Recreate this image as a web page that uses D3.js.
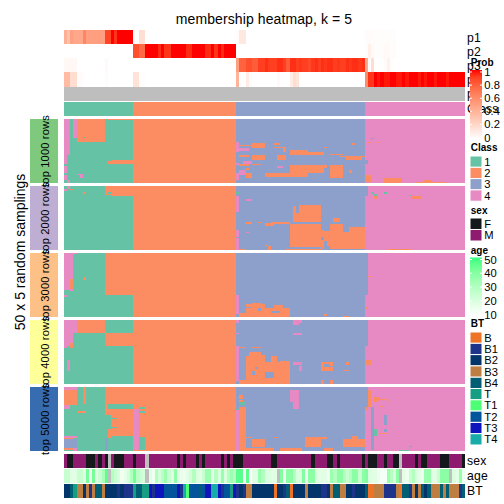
<!DOCTYPE html>
<html><head><meta charset="utf-8">
<script src="https://cdn.jsdelivr.net/npm/d3@7"></script>
<style>html,body{margin:0;padding:0;background:#fff}svg{display:block}text{font-family:"Liberation Sans",Arial,sans-serif;fill:#000}</style>
</head><body><div id="c"></div>
<script>
const classLabels=["1","2","3","4"];
const classColors=["#66C2A5","#FC8D62","#8DA0CB","#E78AC3"];
const classSizes=[22,33,41,32];
const groupNames=["top 1000 rows","top 2000 rows","top 3000 rows","top 4000 rows","top 5000 rows"];
const groupColors=["#7FC97F","#BEAED4","#FDC086","#FFFF99","#386CB0"];
const rowsPerGroup=50;
const p1=[.42,.32,.5,.46,.46,.46,.62,.5,.5,.5,
.5,.5,.5,.88,.88,1,.93,1,1,1,
1,1,0,0,.17,.17,0,0,0,0,
0,0,0,0,0,0,0,0,0,0,
0,0,0,0,0,0,0,0,0,0,
0,0,0,0,0,.02,.12,.12,0,0,
0,0,0,0,0,0,0,0,0,0,
0,0,0,0,0,0,0,0,0,0,
0,0,0,0,0,0,0,0,0,0,
0,0,0,0,0,0,.02,.02,.01,.01,
.01,.01,.01,.01,.01,.01,0,0,0,0,
0,0,0,0,0,0,0,0,0,0,
0,0,0,0,0,0,0,0];
const p2=[0,0,0,0,0,0,0,0,0,0,
0,0,0,0,0,0,0,0,0,0,
0,0,.85,.85,.75,.75,1,1,1,1,
.95,1,.93,.93,1,1,1,1,1,.95,
.95,1,1,1,1,.95,.95,1,.93,1,
.95,1,1,1,1,0,0,0,0,0,
0,0,0,0,0,0,0,0,0,0,
0,0,0,0,0,0,0,0,0,0,
0,0,0,0,0,0,0,0,0,0,
0,0,0,0,0,0,.01,.08,.03,.01,
.01,.01,.03,.03,.01,.02,0,0,0,0,
0,0,0,0,0,0,0,0,0,0,
0,0,0,0,0,0,0,0];
const p3=[.04,.04,.04,.04,0,0,0,0,0,0,
0,0,0,.03,0,0,0,0,0,0,
0,0,0,0,0,0,0,0,0,0,
0,0,0,0,0,0,0,0,0,0,
0,0,0,0,0,0,0,0,0,0,
0,0,0,0,0,.5,.78,.78,.85,.85,
.8,.8,.9,.9,.94,.9,.9,.9,.94,.94,
.9,.8,.94,.94,.9,.92,.9,.9,.87,.92,
.94,.9,.94,.92,.94,.94,.9,.92,.9,.9,
.94,.92,.94,.94,.92,.94,.45,.02,.18,0,
0,0,.02,.07,.01,0,0,0,0,0,
0,0,0,0,0,0,0,0,0,0,
0,0,0,0,0,0,0,0];
const p4=[.36,.36,.18,.18,.02,.02,0,0,0,0,
0,0,0,.02,0,0,0,0,0,0,
0,0,.15,.15,.01,.01,0,0,0,0,
0,0,0,0,0,0,0,0,0,0,
0,0,0,0,0,0,0,0,0,0,
0,0,0,0,0,.4,0,0,.1,.02,
0,0,0,0,0,0,0,0,.03,0,
0,0,.1,.18,.15,0,0,0,0,0,
0,0,0,0,0,0,0,0,0,0,
0,0,0,0,0,0,.6,.93,.92,1,
.98,1,.98,.98,1,1,.98,.98,1,.98,
1,1,1,.98,1,.98,1,1,.98,1,
1,1,.98,1,1,1,1,1];
const probs=[p1,p2,p3,p4];
const probNames=["p1","p2","p3","p4","p5","Class"];
/* cells per group: [fromCol,toCol,fromRow,toRow,class] (to exclusive) */
const cells1=[[0,2,0,28,4],[0,1,28,35,4],[0,1,37,42,4],[0,1,44,48,4],[1,2,48,50,4],[4,6,43,44,4],[5,6,44,46,4],
[3,4,0,15,4],[4,13,0,18,2],[6,7,14,15,1],[15,22,32,35,2],[14,15,33,35,2],[14,22,0,1,2],
[55,56,18,26,4],[55,56,34,36,4],[55,56,42,48,4],[56,60,20,21,2],[56,59,23,25,4],[56,59,28,30,2],[57,60,33,35,4],[56,59,35,37,2],[56,58,40,44,4],[58,60,42,46,2],
[60,64,19,23,2],[60,64,28,32,2],[60,63,35,36,2],[67,69,19,20,2],[67,70,22,23,2],[70,71,22,26,2],[72,78,24,28,2],[78,83,26,28,2],[83,84,22,23,2],[85,89,27,28,2],[92,93,19,20,2],
[88,96,29,30,2],[90,95,30,32,2],[68,71,28,32,2],[72,78,36,45,2],[78,83,36,42,2],[85,89,36,46,2],[83,84,36,38,2],[91,92,40,42,2],[64,72,42,45,2],[58,59,38,40,2],[68,70,37,38,4],
[96,97,32,35,3],[98,99,15,16,3],[96,98,44,49,2],[102,108,46,50,2],[112,122,49,50,2],[115,117,48,50,2],[97,98,18,19,2],[100,101,18,19,2]];
const cells2=[[13,22,0,8,2],[0,1,2,4,4],[1,2,0,2,4],[1,2,4,6,1],[2,3,2,3,2],[6,7,5,6,2],[14,15,5,6,1],[13,15,7,8,1],
[96,97,0,8,3],[55,56,8,20,4],[55,56,34,40,4],[55,56,41,50,4],[55,56,5,6,1],[58,60,10,12,4],[58,59,36,37,4],[55,56,30,31,3],
[73,74,16,28,2],[74,75,21,28,2],[75,82,15,28,2],[72,82,30,48,2],[82,83,34,40,2],[82,83,42,49,2],[85,89,30,49,2],[89,91,36,49,2],[91,96,32,49,2],[83,85,35,43,2],[84,85,43,47,2],
[86,88,25,28,2],[58,60,28,30,2],[62,63,28,29,2],[64,67,29,31,2],[66,72,28,30,2],[71,82,49,50,2],[64,65,46,47,2],[65,66,47,50,2],[56,58,49,50,2],
[99,100,6,10,2],[99,100,6,8,1],[98,99,5,6,1],[102,103,5,6,1],[111,114,8,10,2],[110,111,7,8,1],[103,111,49,50,2]];
const cells3=[[0,3,0,30,4],[3,4,0,1,4],[2,3,20,28,2],[13,22,0,33,2],[6,7,19,21,2],[0,2,29,33,1],[0,1,33,34,4],
[96,97,0,33,3],[55,56,33,48,4],[58,64,40,50,2],[56,58,47,50,2],[64,72,43,50,2],[67,70,41,43,2],[60,63,39,40,2],[62,63,43,45,3],[66,69,45,47,3],[58,60,42,43,3],
[83,84,48,49,2],[89,91,49,50,2],[97,98,18,19,2],[96,97,42,44,2]];
const cells4=[[0,4,0,10,4],[4,13,0,10,2],[0,3,10,18,4],[0,2,18,20,4],[0,1,20,22,4],[2,3,18,22,2],[13,22,10,20,2],[1,2,31,40,4],
[96,97,0,20,3],[55,56,20,48,4],[55,56,0,2,4],[55,56,10,11,4],[73,76,0,2,4],[73,75,2,4,4],[73,76,10,12,4],
[58,64,25,50,2],[56,58,47,50,2],[56,58,21,22,2],[60,63,21,22,2],[64,72,33,50,2],[66,68,28,33,2],[69,72,32,33,2],[64,67,41,45,3],[60,61,40,43,3],[61,62,37,38,3],[58,59,25,28,3],[63,64,25,27,3],
[73,76,33,35,4],[75,76,36,40,4],[82,85,33,34,2],[82,83,34,40,2],[83,86,37,40,2],[85,86,33,36,2],[82,83,47,50,2],[85,86,47,50,2],[89,91,39,40,2],[90,91,33,35,2],[96,98,31,35,2]];
const cells5=[[0,4,0,2,4],[0,4,2,13,2],[6,7,0,13,2],[13,22,0,13,2],[0,4,13,14,2],[0,2,14,17,4],[2,4,14,16,1],[13,14,13,22,2],[14,22,17,38,2],[14,15,22,33,1],[15,17,24,25,1],[15,17,31,32,1],[14,15,40,50,1],[13,14,40,50,3],
[4,7,19,20,2],[13,14,30,32,1],[14,15,37,40,2],[22,24,17,49,4],[24,26,16,17,1],[24,26,19,20,1],[24,26,39,49,1],
[0,4,38,40,4],[0,3,40,41,2],[0,4,41,48,3],[0,3,48,49,2],[3,4,48,50,4],
[96,97,0,16,3],[97,98,2,16,2],[96,97,16,18,2],[97,98,18,50,4],[98,99,16,49,3],[99,100,33,38,1],[56,58,16,50,2],[56,57,6,9,2],[56,57,10,12,2],[56,58,12,14,1],[55,56,18,50,4],[55,56,17,18,1],
[72,75,2,12,4],[73,75,12,17,4],[60,64,41,47,2],[58,60,39,40,2],[67,68,39,40,2],[58,67,48,50,2],[69,76,48,50,2],[77,82,39,47,2],[82,84,39,41,2],[83,86,48,50,2],[89,96,41,47,2],[92,94,38,41,2],
[99,101,8,12,2],[100,101,11,12,4],[101,103,9,10,2],[101,102,15,16,2],[102,103,22,30,3],[101,103,36,37,2],[103,104,10,11,2],[102,103,33,35,3],[107,110,49,50,1],[110,111,46,47,3]];
const groupCells=[cells1,cells2,cells3,cells4,cells5];
const sexLabels=["F","M"];
const sexColors=["#15191C","#8E1B6F"];
const blackCols=[1,2,7,8,9,11,13,16,17,18,22,36,38,42,44,50,52,54,55,56,66,67,79,84,85,87,95,97,98,99,102,105,106,112,114,115,120,121,122,127];
const sexNA=[14,26,107];
const age=[25,25,18,18,25,25,18,42,15,42,
18,25,32,46,null,30,25,20,14,17,
22,30,42,28,25,22,null,18,14,30,
22,28,35,25,18,38,18,16,15,18,
22,30,20,18,25,35,35,18,30,20,
36,20,30,35,28,46,46,13,46,12,
18,18,36,30,20,20,18,18,null,40,
15,38,38,30,20,20,40,15,38,38,
20,18,18,18,15,35,30,38,38,30,
25,30,38,38,25,38,40,20,18,18,
15,13,13,35,30,20,38,null,18,15,
25,30,20,18,15,36,36,18,18,25,
38,38,38,null,20,18,36,15];
const btNames=["B","B1","B2","B3","B4","T","T1","T2","T3","T4"];
const btColors=["#EF7326","#1E348A","#03356A","#BF7E41","#015E73","#169E84","#4DFF74","#02559A","#0E15BC","#17ABAA"];
const bt=["B2","B2","B4","T","B3","B3","B2","B3","B1","B3",
"B4","B4","B3","B2","B2","B2","B2","B1","B2","B1",
"B1","B1","T","B4","B4","T","T","T3","B1","T3",
"T3","T3","T2","T2","T2","T2","T3","B1","T4","T1",
"T2","T2","T2","B4","T2","T3","T3","T4","T4","T3",
"B1","T2","T2","T","T3","B1","B2","B1","B3","B3",
"B2","B2","B2","B2","B2","B2","B2","B","B2","B2",
"B1","B4","B","B2","B2","B2","B2","B3","B2","B2",
"B2","B2","B1","B1","B2","B3","B4","B4","B3","B3",
"B2","B2","B1","B2","B2","B2","B4","B","B","B3",
"B3","B3","B1","B1","B1","B1","B3","B","B4","B4",
"B1","B3","B2","B3","B4","B2","B4","B3","B3","B3",
"B4","B3","B4","B3","B3","B3","B1","B4"];
const probTicks=[0,.2,.4,.6,.8,1];
const ageTicks=[10,20,30,40,50];

const svg=d3.select("#c").append("svg").attr("width",504).attr("height",504);
const x=d3.scaleBand().domain(d3.range(128)).range([64,465]).paddingInner(0).paddingOuter(0);
const probColor=d3.scaleLinear().domain([0,1]).range(["#fff","#f00"]).interpolate(d3.interpolateLab);
const ageColor=d3.scaleLinear().domain([10,50]).range(["#fff","#33FF7F"]).interpolate(d3.interpolateLab);
const classColor=d3.scaleOrdinal().domain(classLabels).range(classColors);
const sexColor=d3.scaleOrdinal().domain(sexLabels).range(sexColors);
const btColor=d3.scaleOrdinal().domain(btNames).range(btColors);
const NA="#BEBEBE";
const labelSize=12.2;

const baseClass=[];
classSizes.forEach((n,i)=>{for(let k=0;k<n;k++)baseClass.push(i+1)});

svg.append("text").attr("x",264).attr("y",23.5).attr("text-anchor","middle").attr("font-size",14).attr("letter-spacing",.1).text("membership heatmap, k = 5");

function track(top,h,colorOf){
  svg.append("g").selectAll("rect").data(d3.range(128)).join("rect")
   .attr("x",i=>x(i)).attr("width",x.bandwidth()+.01).attr("y",top).attr("height",h)
   .attr("fill",colorOf).attr("shape-rendering","crispEdges");
}
const annY=d3.scaleBand().domain(["p1","p2","p3","p4","p5"]).range([30,100.8]);
probs.forEach((p,j)=>track(annY("p"+(j+1)),annY.bandwidth(),i=>probColor(p[i])));
track(annY("p5"),annY.bandwidth(),()=>NA);
track(102,14.2,i=>classColor(String(baseClass[i])));

const groupTops=[119,186,253,320,387];
groupNames.forEach((name,g)=>{
  const top=groupTops[g],h=64;
  const rowY=d3.scaleBand().domain(d3.range(rowsPerGroup)).range([top,top+h]);
  const m=d3.range(rowsPerGroup).map(()=>baseClass.slice());
  groupCells[g].forEach(([c0,c1,r0,r1,cl])=>{for(let r=r0;r<r1;r++)for(let c=c0;c<c1;c++)m[r][c]=cl});
  const runs=[];
  m.forEach((row,r)=>{let s=0;for(let c=1;c<=128;c++){if(c===128||row[c]!==row[s]){runs.push({r,s,e:c,cl:row[s]});s=c}}});
  svg.append("g").selectAll("rect").data(runs).join("rect")
    .attr("x",d=>x(d.s)).attr("width",d=>x(d.e-1)+x.bandwidth()-x(d.s))
    .attr("y",d=>rowY(d.r)).attr("height",rowY.bandwidth()+.01)
    .attr("fill",d=>classColor(String(d.cl))).attr("shape-rendering","crispEdges");
  svg.append("rect").attr("x",30).attr("width",28).attr("y",top).attr("height",h).attr("fill",groupColors[g]);
  svg.append("text").attr("transform",`translate(49,${top+h/2}) rotate(-90)`).attr("text-anchor","middle").attr("font-size",11.2).attr("letter-spacing",.12).text(name);
});
svg.append("text").attr("transform","translate(24.5,252) rotate(-90)").attr("text-anchor","middle").attr("font-size",14).text("50 x 5 random samplings");

track(454,14,i=>sexNA.includes(i)?NA:sexColor(blackCols.includes(i)?"F":"M"));
track(468.7,14,i=>age[i]===null?NA:ageColor(age[i]));
track(484,14,i=>btColor(bt[i]));
[["sex",465],["age",480],["BT",495]].forEach(([t,y])=>svg.append("text").attr("x",467).attr("y",y).attr("font-size",labelSize).attr("letter-spacing",.2).text(t));
probNames.forEach((t,i)=>svg.append("text").attr("x",467).attr("y",[41.5,55.5,70,84,98,113][i]).attr("font-size",labelSize).attr("letter-spacing",.2).text(t));

/* legends */
const lg=svg.append("g");
const legX=470,boxW=12,labX=484.3;
function title(t,y){lg.append("text").attr("x",legX+.8).attr("y",y).attr("font-size",10).attr("font-weight","bold").text(t)}
function defs(id,color,dom){
  const gr=svg.append("defs").append("linearGradient").attr("id",id).attr("x1",0).attr("x2",0).attr("y1",1).attr("y2",0);
  d3.range(0,1.001,.1).forEach(f=>gr.append("stop").attr("offset",f).attr("stop-color",color(dom[0]+f*(dom[1]-dom[0]))));
}
function ramp(id,color,dom,ticks,y0,y1,fmt){
  defs(id,color,dom);
  lg.append("rect").attr("x",legX).attr("y",y0).attr("width",boxW).attr("height",y1-y0).attr("fill",`url(#${id})`);
  const sc=d3.scaleLinear().domain(dom).range([y1-1.5,y0+2]);
  ticks.forEach(t=>{
    const y=sc(t);
    lg.append("line").attr("x1",legX).attr("x2",legX+2).attr("y1",y).attr("y2",y).attr("stroke","#fff");
    lg.append("line").attr("x1",legX+boxW-2).attr("x2",legX+boxW).attr("y1",y).attr("y2",y).attr("stroke","#fff");
    lg.append("text").attr("x",labX).attr("y",y+4).attr("font-size",11.2).text(fmt(t));
  });
}
function boxes(names,color,top,step){
  names.forEach((n,i)=>{
    lg.append("rect").attr("x",legX).attr("y",top+i*step).attr("width",boxW).attr("height",step).attr("fill",color(n)).attr("stroke","#fff").attr("stroke-width",1);
    lg.append("text").attr("x",labX).attr("y",top+i*step+step/2+4).attr("font-size",11.2).text(n);
  });
}
title("Prob",66);
ramp("gp",probColor,[0,1],probTicks,70,139,d=>String(d));
title("Class",150.5);
boxes(classLabels,classColor,156,11.3);
title("sex",214);
boxes(sexLabels,sexColor,218,11.5);
title("age",253.5);
ramp("ga",ageColor,[10,50],ageTicks,257.5,316,d=>String(d));
title("BT",327);
boxes(btNames,btColor,332,11.3);
</script></body></html>
